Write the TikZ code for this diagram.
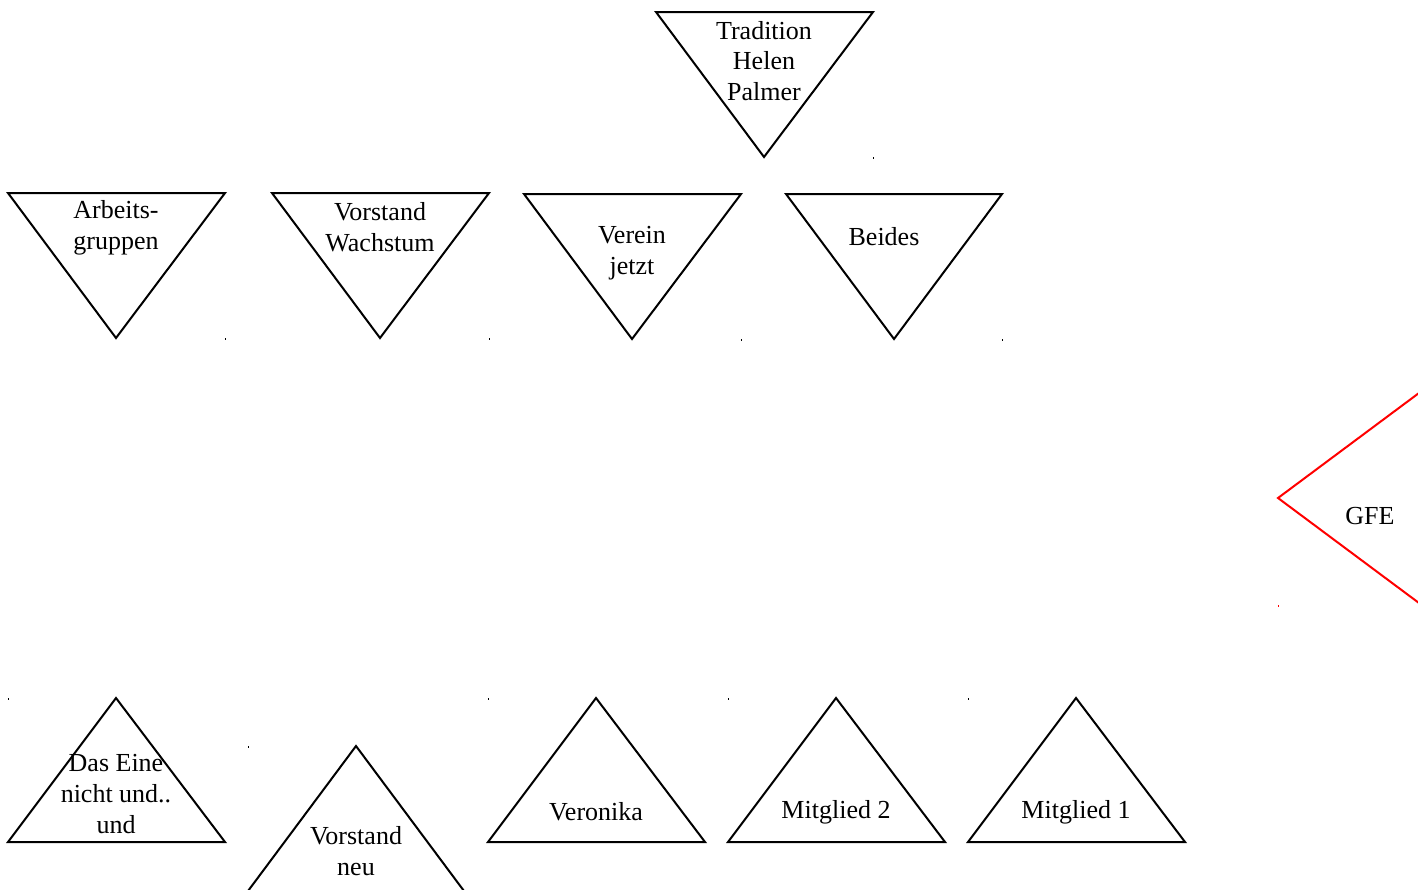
\documentclass[tikz,border=0pt]{standalone}
\usepackage{fontspec}
\setmainfont{Liberation Serif}
\begin{document}
\begin{tikzpicture}[x=0.5pt,y=-0.5pt,
  tri/.style={draw=black,line width=1pt,line join=miter},
  redtri/.style={draw=red,line width=1pt,line join=miter},
  lbl/.style={inner sep=0pt,align=center,font=\fontsize{13}{15.3}\selectfont,text=black},
  dotmark/.style={fill=black},
  reddot/.style={fill=red}]
\useasboundingbox (0,0) rectangle (1418,889);
\begin{scope}
\clip (0,0) rectangle (1418,889);
% top
\draw[tri] (656,12) -- (873,12) -- (764,157) -- cycle;
\node[lbl] (trad) at (764,61) {Tradition\\Helen\\Palmer};
% second row
\draw[tri] (8,193) -- (225,193) -- (116,338) -- cycle;
\node[lbl] (arb) at (116,228) {Arbeits-\\gruppen};
\draw[tri] (272,193) -- (489,193) -- (380,338) -- cycle;
\node[lbl] (vw) at (380,227) {Vorstand\\Wachstum};
\draw[tri] (524,194) -- (741,194) -- (632,339) -- cycle;
\node[lbl] (vj) at (632,253) {Verein\\jetzt};
\draw[tri] (786,194) -- (1002,194) -- (894,339) -- cycle;
\node[lbl] (bei) at (884,237) {Beides};
% GFE
\draw[redtri] (1278,498) -- (1423,390) -- (1423,606) -- cycle;
\node[lbl] (gfe) at (1370,516) {GFE};
% bottom row
\draw[tri] (116,698) -- (225,842) -- (8,842) -- cycle;
\node[lbl] (das) at (116,794) {Das Eine\\nicht und..\\und};
\draw[tri] (356,746) -- (464,891) -- (248,891) -- cycle;
\node[lbl] (vn) at (356,851) {Vorstand\\neu};
\draw[tri] (596,698) -- (705,842) -- (488,842) -- cycle;
\node[lbl] (ver) at (596,812) {Veronika};
\draw[tri] (836,698) -- (945,842) -- (728,842) -- cycle;
\node[lbl] (m2) at (836,812) {Mitglied 2};
\draw[tri] (1076,698) -- (1185,842) -- (968,842) -- cycle;
\node[lbl] (m1) at (1076,812) {Mitglied 1};
% tiny corner marks
\foreach \p in {(873,157),(225,338),(489,338),(741,339),(1002,339),(8,698),(248,746),(488,698),(728,698),(968,698)}
  \fill[dotmark] \p rectangle ++(1,2);
\fill[reddot] (1278,605) rectangle ++(1,2);
\end{scope}
\end{tikzpicture}
\end{document}
